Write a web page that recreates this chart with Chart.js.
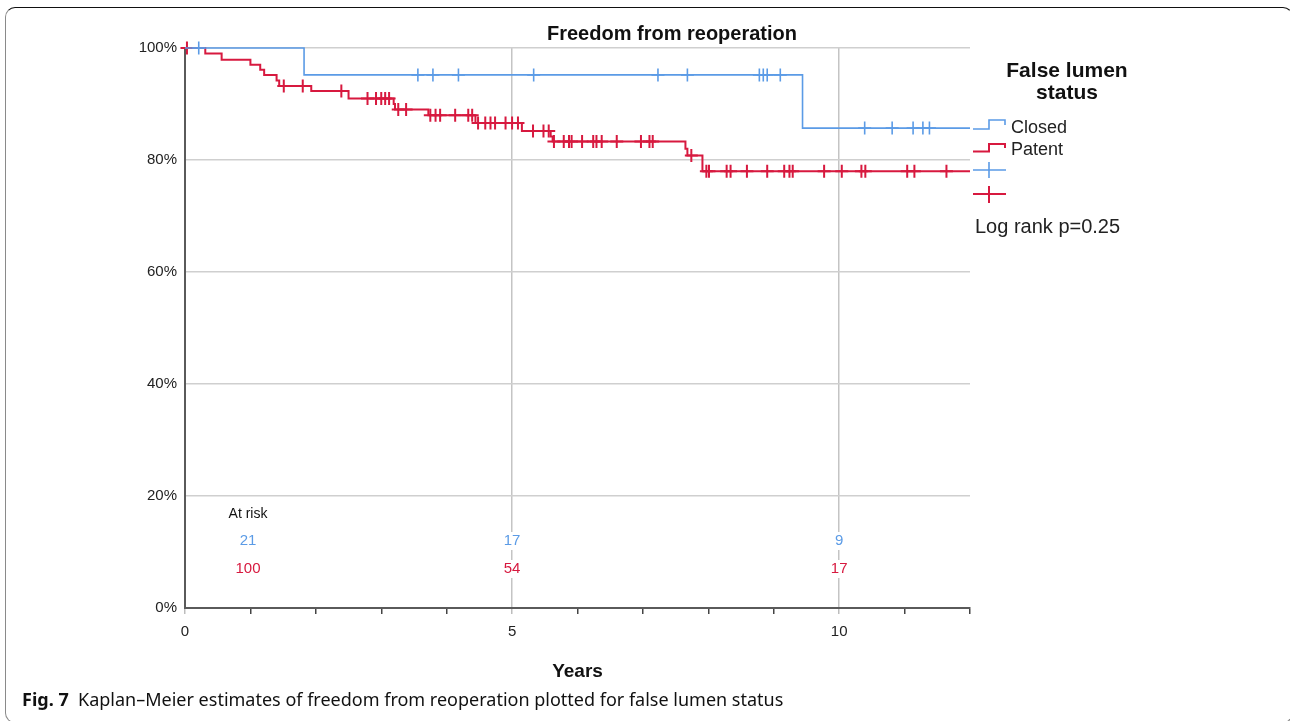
<!DOCTYPE html>
<html>
<head>
<meta charset="utf-8">
<script src="https://cdn.jsdelivr.net/npm/chart.js@4.4.1/dist/chart.umd.min.js"></script>
<style>
html,body{margin:0;padding:0;background:#fff;}
body{width:1290px;height:721px;position:relative;overflow:hidden;font-family:"Liberation Sans",Arial,sans-serif;}
#frame{position:absolute;left:5px;top:7px;width:1288px;height:716px;box-sizing:border-box;border:1.5px solid #8a8a8a;border-top:1.8px solid #111;border-radius:10px;}
#wrap{position:absolute;left:0;top:0;width:1290px;height:721px;}
.t{position:absolute;white-space:nowrap;}
#icons{position:absolute;left:0;top:0;width:1290px;height:721px;pointer-events:none;}
</style>
</head>
<body>
<div id="frame"></div>
<div id="wrap"><canvas id="c"></canvas></div>

<div class="t" style="left:472px;width:400px;top:21px;text-align:center;font:bold 20px/24px 'Liberation Sans',Arial,sans-serif;color:#111;">Freedom from reoperation</div>

<div class="t" style="left:957px;width:220px;top:59px;text-align:center;font:bold 21px/22px 'Liberation Sans',Arial,sans-serif;color:#111;white-space:normal;">False lumen<br>status</div>

<svg id="icons" viewBox="0 0 1290 721">
  <path d="M973 129 H989 V120 H1005 V125" fill="none" stroke="#5b9be6" stroke-width="1.6"/>
  <path d="M973 151.5 H989 V144 H1005 V148" fill="none" stroke="#d7193f" stroke-width="2"/>
  <path d="M973 170 H1006 M989 162 V178" fill="none" stroke="#5b9be6" stroke-width="1.6"/>
  <path d="M973 194 H1006 M989 186 V203" fill="none" stroke="#d7193f" stroke-width="2"/>
</svg>

<div class="t" style="left:1011px;top:116px;font:18px/22px 'Liberation Sans',Arial,sans-serif;color:#222;">Closed</div>
<div class="t" style="left:1011px;top:138px;font:18px/22px 'Liberation Sans',Arial,sans-serif;color:#222;">Patent</div>
<div class="t" style="left:975px;top:214px;font:20px/24px 'Liberation Sans',Arial,sans-serif;color:#222;">Log rank p=0.25</div>

<div class="t" style="left:22px;top:687px;font:18px/24px 'Noto Sans','Open Sans',sans-serif;color:#111;"><b>Fig. 7</b>&nbsp; Kaplan–Meier estimates of freedom from reoperation plotted for false lumen status</div>

<script>
// ---------- DATA ----------
const closedTimes = [0, 1.82, 9.44, 12];
const closedSurv  = [100, 95.2, 85.7, 85.7];
const closedCensor = [0.21, 3.56, 3.79, 4.18, 5.33, 7.23, 7.68, 8.78, 8.84, 8.90, 9.10, 10.39, 10.81, 11.13, 11.28, 11.38];

const patentTimes = [0, 0.31, 0.56, 1.00, 1.15, 1.21, 1.40, 1.44, 1.93, 2.50, 3.19, 3.21, 3.72, 4.44, 5.15, 5.59, 5.62, 7.65, 7.68, 7.91, 12];
const patentSurv  = [100, 99.0, 97.9, 97.0, 96.1, 95.2, 94.2, 93.2, 92.3, 91.0, 90.0, 89.0, 88.0, 86.6, 85.2, 84.2, 83.3, 82.0, 80.8, 78.0, 78.0];
const patentCensor = [0.03, 1.51, 1.80, 2.39, 2.79, 2.92, 3.00, 3.06, 3.12, 3.26, 3.38, 3.75, 3.83, 3.90, 4.13, 4.33, 4.39,
  4.48, 4.59, 4.67, 4.74, 4.90, 5.00, 5.09, 5.32, 5.48, 5.56, 5.64, 5.79, 5.87, 5.91, 6.07, 6.24, 6.29, 6.37, 6.60,
  6.97, 7.10, 7.15, 7.74, 7.97, 8.01, 8.28, 8.34, 8.59, 8.90, 9.16, 9.24, 9.29, 9.77, 10.04, 10.34, 10.40, 11.04, 11.15, 11.64];

const riskHeader = 'At risk';
const riskTimes = [0, 5, 10];
const riskClosed = [21, 17, 9];
const riskPatent = [100, 54, 17];

const xLabelTicks = [0, 5, 10];
const yTicks = [0, 20, 40, 60, 80, 100];

const BLUE = '#5b9be6';
const RED = '#d7193f';

// ---------- helpers ----------
function survAt(times, surv, t) {
  let v = surv[0];
  for (let i = 0; i < times.length; i++) if (times[i] <= t) v = surv[i];
  return v;
}
const toPts = (ts, ss) => ts.map((t, i) => ({x: t, y: ss[i]}));
const censorPts = (cs, ts, ss) => cs.map(t => ({x: t, y: survAt(ts, ss, t)}));

const atRiskPlugin = {
  id: 'atRisk',
  beforeDatasetsDraw(chart) {
    const {ctx, scales: {x, y}} = chart;
    const base = y.getPixelForValue(0);
    const colX = t => x.getPixelForValue(t) + (t === 0 ? 63 : 0);
    ctx.save();
    ctx.textAlign = 'center';
    ctx.textBaseline = 'middle';
    ctx.font = '14px "Liberation Sans", Arial, sans-serif';
    ctx.fillStyle = '#111';
    ctx.fillText(riskHeader, colX(0), base - 94);
    const rows = [[riskClosed, BLUE, base - 67], [riskPatent, RED, base - 39]];
    ctx.font = '15px "Liberation Sans", Arial, sans-serif';
    rows.forEach(([vals, col, py]) => {
      vals.forEach((v, i) => {
        const px = colX(riskTimes[i]);
        const s = String(v);
        const w = ctx.measureText(s).width;
        ctx.fillStyle = '#fff';
        ctx.fillRect(px - w / 2 - 2, py - 9, w + 4, 18);
        ctx.fillStyle = col;
        ctx.fillText(s, px, py);
      });
    });
    ctx.restore();
  }
};

new Chart(document.getElementById('c'), {
  type: 'scatter',
  data: {
    datasets: [
      {label: 'Closed censored', data: censorPts(closedCensor, closedTimes, closedSurv), showLine: false,
       pointStyle: 'cross', pointRadius: 6.5, borderColor: BLUE, backgroundColor: BLUE, borderWidth: 1.6, clip: false},
      {label: 'Closed', data: toPts(closedTimes, closedSurv), showLine: true, stepped: 'before',
       borderColor: BLUE, borderWidth: 1.6, pointRadius: 0, fill: false, clip: false},
      {label: 'Patent censored', data: censorPts(patentCensor, patentTimes, patentSurv), showLine: false,
       pointStyle: 'cross', pointRadius: 6.5, borderColor: RED, backgroundColor: RED, borderWidth: 2, clip: false},
      {label: 'Patent', data: toPts(patentTimes, patentSurv), showLine: true, stepped: 'before',
       borderColor: RED, borderWidth: 2, pointRadius: 0, fill: false, clip: false}
    ]
  },
  options: {
    responsive: true,
    maintainAspectRatio: false,
    animation: false,
    events: [],
    layout: {padding: {left: 100, right: 320, top: 48, bottom: 38}},
    plugins: {legend: {display: false}, tooltip: {enabled: false}, title: {display: false}},
    scales: {
      x: {
        type: 'linear', min: 0, max: 12,
        afterFit: s => { s.height = 75; },
        ticks: {stepSize: 1, autoSkip: false, maxRotation: 0, padding: 9, color: '#222',
                font: {size: 15, family: "'Liberation Sans', Arial, sans-serif"},
                callback: v => xLabelTicks.includes(v) ? String(v) : ''},
        grid: {
          color: c => (c.tick && c.tick.value % 5 === 0 && c.tick.value !== 0) ? '#c4c4c4' : 'rgba(0,0,0,0)',
          lineWidth: 1.5, drawTicks: true, tickLength: 6, tickWidth: 1.5,
          tickColor: c => (c.tick && c.tick.value % 5 === 0) ? '#bdbdbd' : '#444'
        },
        border: {display: true, color: '#5a5a5a', width: 2},
        title: {display: true, text: 'Years', color: '#111', padding: 0,
                font: {size: 19, weight: 'bold', family: "'Liberation Sans', Arial, sans-serif"}}
      },
      y: {
        min: 0, max: 100,
        afterFit: s => { s.width = 85; },
        afterBuildTicks: s => { s.ticks = yTicks.map(v => ({value: v})); },
        ticks: {padding: 8, color: '#222', font: {size: 15, family: "'Liberation Sans', Arial, sans-serif"},
                callback: v => v + '%'},
        grid: {color: '#cfcfcf', lineWidth: 1.5, drawTicks: false},
        border: {display: true, color: '#5a5a5a', width: 2}
      }
    }
  },
  plugins: [atRiskPlugin]
});
</script>
</body>
</html>
